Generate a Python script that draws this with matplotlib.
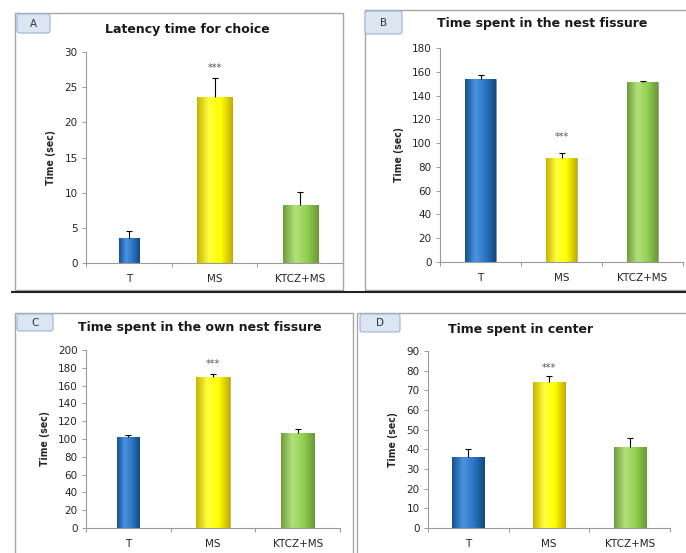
import numpy as np
import matplotlib
matplotlib.use('Agg')
import matplotlib.pyplot as plt
from matplotlib.patches import Rectangle, FancyBboxPatch
from matplotlib.lines import Line2D
from matplotlib.colors import LinearSegmentedColormap

# data
groups = ['T', 'MS', 'KTCZ+MS']

latency_mean = [3.6, 23.6, 8.2]
latency_err = [1.0, 2.7, 1.9]

nest_mean = [154.2, 87.5, 151.1]
nest_err = [3.1, 4.5, 1.4]

own_nest_mean = [101.9, 169.7, 106.7]
own_nest_err = [3.0, 3.3, 4.2]

center_mean = [36.0, 74.0, 41.4]
center_err = [4.2, 3.3, 4.4]

W, H = 686, 553


def fx(px):
    return px / W


def fy(py):
    return 1 - py / H


# gradient colours per group (edge, highlight, body, edge)
bar_grads = [
    ['#16508f', '#4a94e0', '#2a74c4', '#15497f'],
    ['#c9b400', '#ffff40', '#ffff00', '#c2ad00'],
    ['#6e9e3a', '#b4e07c', '#92d050', '#6a9836'],
]


def shade_bars(ax, bars, grads):
    for bar, cols in zip(bars, grads):
        x0, y0 = bar.get_x(), bar.get_y()
        w, h = bar.get_width(), bar.get_height()
        cmap = LinearSegmentedColormap.from_list('g', cols)
        grad = np.linspace(0, 1, 64).reshape(1, -1)
        im = ax.imshow(grad, cmap=cmap, extent=[x0, x0 + w, y0, y0 + h],
                       aspect='auto', zorder=2, interpolation='bicubic')
        im.set_clip_path(bar)


def panel(rect_px, means, errs, widths, ymax, ystep, stars_y):
    left, right, y0, ytop = rect_px
    ax = fig.add_axes([fx(left), fy(y0), fx(right) - fx(left), fy(ytop) - fy(y0)])
    x = np.arange(len(groups))
    bars = ax.bar(x, means, width=widths, color=[g[2] for g in bar_grads],
                  edgecolor='#7f7f7f', linewidth=0.4, zorder=1)
    shade_bars(ax, bars, bar_grads)
    # upper error bars only
    _, caps, _ = ax.errorbar(x, means, yerr=[np.zeros(len(errs)), errs], fmt='none',
                             ecolor='black', elinewidth=0.8, capsize=2.5,
                             capthick=0.8, zorder=3)
    caps[0].set_visible(False)
    ax.text(1, stars_y, '***', ha='center', va='center', fontsize=7,
            color='#555555')
    ax.set_xlim(-0.5, 2.5)
    ax.set_ylim(0, ymax)
    ax.set_yticks(np.arange(0, ymax + ystep / 2, ystep))
    ax.set_xticks(x)
    ax.set_xticklabels(groups)
    ax.set_xticks([-0.5, 0.5, 1.5, 2.5], minor=True)
    ax.tick_params(axis='x', which='major', length=0, pad=8, labelsize=7.5,
                   labelcolor='#262626')
    ax.tick_params(axis='x', which='minor', length=3, direction='out',
                   color='#9a9a9a', width=0.7)
    ax.tick_params(axis='y', length=3, direction='out', color='#9a9a9a',
                   width=0.7, labelsize=7.5, labelcolor='#262626', pad=3)
    for s in ['top', 'right']:
        ax.spines[s].set_visible(False)
    for s in ['left', 'bottom']:
        ax.spines[s].set_color('#9a9a9a')
        ax.spines[s].set_linewidth(0.8)
    ax.set_facecolor('none')
    ax.set_ylabel('Time (sec)', fontsize=7.5, fontweight='bold',
                  fontstretch='condensed', labelpad=6, color='#262626')
    return ax


def frame(x0, y0, x1, y1, letter, lx0, lx1, ly1):
    fig.patches.append(Rectangle((fx(x0), fy(y1)), fx(x1) - fx(x0), fy(y0) - fy(y1),
                                 transform=fig.transFigure, fill=False,
                                 edgecolor='#a6a6a6', linewidth=1.0))
    fig.patches.append(FancyBboxPatch((fx(lx0), fy(ly1)), fx(lx1) - fx(lx0),
                                      fy(y0 + 1) - fy(ly1),
                                      boxstyle='round,pad=0,rounding_size=0.004',
                                      transform=fig.transFigure,
                                      facecolor='#dce6f2', edgecolor='#9db5d6',
                                      linewidth=0.8))
    fig.text(fx((lx0 + lx1) / 2), fy((y0 + ly1) / 2 + 1), letter, ha='center',
             va='center', fontsize=7.5, color='#333333')


fig = plt.figure(figsize=(W / 100, H / 100), dpi=100)
fig.patch.set_facecolor('white')

# panel frames
frame(15, 13, 343, 290, 'A', 17, 50, 33)
frame(365, 10, 690, 290, 'B', 365, 402, 34)
frame(15, 313, 353, 560, 'C', 17, 53, 331)
frame(357, 313, 690, 560, 'D', 360, 400, 332)

# dark separator line
fig.lines.append(Line2D([fx(12), fx(686)], [fy(292), fy(292)],
                        transform=fig.transFigure, color='#222222', linewidth=1.5))

ax_a = panel((86, 343, 263, 52), latency_mean, latency_err, [0.24, 0.41, 0.41],
             30, 5, 27.7)
ax_b = panel((440, 683, 262, 48), nest_mean, nest_err, [0.38, 0.38, 0.38],
             180, 20, 105)
ax_c = panel((86, 340, 528, 350), own_nest_mean, own_nest_err, [0.26, 0.39, 0.39],
             200, 20, 184.6)
ax_d = panel((428, 670, 528, 351), center_mean, center_err, [0.40, 0.40, 0.40],
             90, 10, 81.4)

# titles
fig.text(fx(187), fy(30), 'Latency time for choice', ha='center', va='center',
         fontsize=9, fontweight='bold', color='#1a1a1a')
fig.text(fx(542), fy(24), 'Time spent in the nest fissure', ha='center', va='center',
         fontsize=9, fontweight='bold', color='#1a1a1a')
fig.text(fx(200), fy(328), 'Time spent in the own nest fissure', ha='center',
         va='center', fontsize=9, fontweight='bold', color='#1a1a1a')
fig.text(fx(521), fy(330), 'Time spent in center', ha='center', va='center',
         fontsize=9, fontweight='bold', color='#1a1a1a')

fig.savefig('out.png', dpi=100)
